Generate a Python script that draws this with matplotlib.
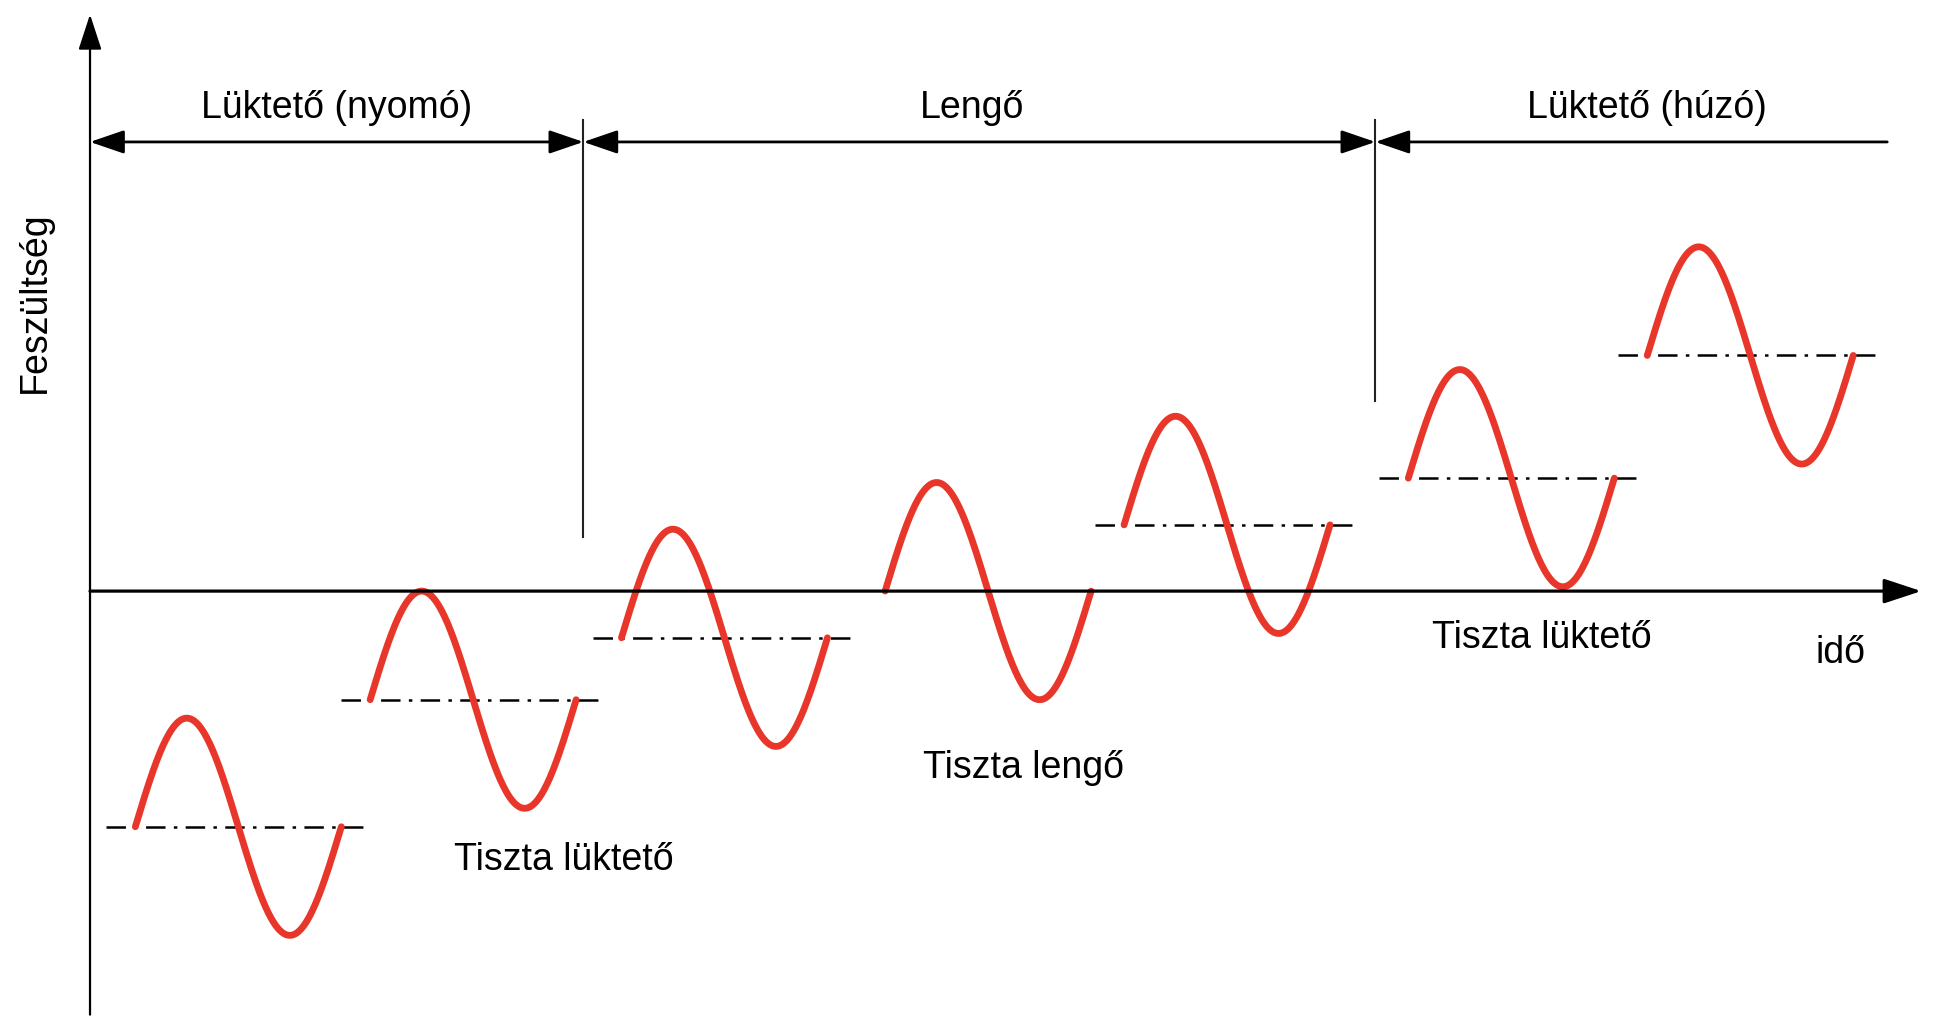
import numpy as np
import matplotlib
matplotlib.use('Agg')
import matplotlib.pyplot as plt

# sine segments: start time, mean level (amplitude units), one period each
wave_start = [0.22, 1.36, 2.58, 3.86, 5.02, 6.40, 7.56]
wave_mean = [-2.17, -1.0, -0.43, 0.0, 0.61, 1.04, 2.17]
amplitude = 1.0
period = 1.0

# regions along the top dimension line
region_edges = [0.0, 2.395, 6.24, 8.725]
region_labels = ['Lüktető (nyomó)', 'Lengő', 'Lüktető (húzó)']

# texts under the waves
wave_labels = ['Tiszta lüktető', 'Tiszta lengő', 'Tiszta lüktető']
wave_label_x = [2.30, 4.53, 7.05]
wave_label_y = [-2.57, -1.72, -0.52]

plt.rcParams['font.family'] = ['Liberation Sans', 'DejaVu Sans']
plt.rcParams['lines.scale_dashes'] = False

fig = plt.figure(figsize=(19.34, 10.23), dpi=100)
ax = fig.add_axes([0, 0, 1, 1])
ax.set_xlim(-0.437, 8.952)
ax.set_ylim(-3.977, 5.443)
ax.axis('off')

red = '#E8372A'
ext = 0.14
for s, m in zip(wave_start, wave_mean):
    t = np.linspace(s, s + period, 300)
    if m != 0:
        ax.plot([s - ext, s + period + ext], [m, m], color='black', lw=1.8,
                linestyle=(0, (14, 6, 2.5, 6)), zorder=2)
    ax.plot(t, m + amplitude * np.sin(2 * np.pi * (t - s) / period),
            color=red, lw=4.9, solid_capstyle='round', zorder=3)

head = dict(mutation_scale=20, color='black', shrinkA=0, shrinkB=0)

# axes with arrows
ax.annotate('', xy=(0, 5.31), xytext=(0, -3.9),
            arrowprops=dict(arrowstyle='-|>,head_length=1.1,head_width=0.36', lw=1.6, **head))
ax.annotate('', xy=(8.89, 0), xytext=(0, 0),
            arrowprops=dict(arrowstyle='-|>,head_length=1.15,head_width=0.38', lw=2.3, **head))

# separators
ax.plot([2.395, 2.395], [0.5, 4.34], color='#222222', lw=1.5)
ax.plot([6.24, 6.24], [1.75, 4.34], color='#222222', lw=1.5)

# dimension line
dim_y = 4.136
styles = ['<|-|>', '<|-|>', '<|-']
for i in range(3):
    ax.annotate('', xy=(region_edges[i + 1], dim_y), xytext=(region_edges[i], dim_y),
                arrowprops=dict(arrowstyle=styles[i] + ',head_length=1.05,head_width=0.36',
                                lw=2.0, **head))
    cx = (region_edges[i] + region_edges[i + 1]) / 2
    if i == 1:
        cx = 4.28
    if i == 2:
        cx = 7.56
    ax.text(cx, 4.36, region_labels[i], ha='center', va='baseline', fontsize=27)

for lab, x, y in zip(wave_labels, wave_label_x, wave_label_y):
    ax.text(x, y, lab, ha='center', va='baseline', fontsize=27)

ax.text(8.50, -0.66, 'idő', ha='center', va='baseline', fontsize=27)
ax.text(-0.27, 2.66, 'Feszültség', ha='center', va='center', rotation=90, fontsize=27)

plt.savefig('out.png', dpi=100)
